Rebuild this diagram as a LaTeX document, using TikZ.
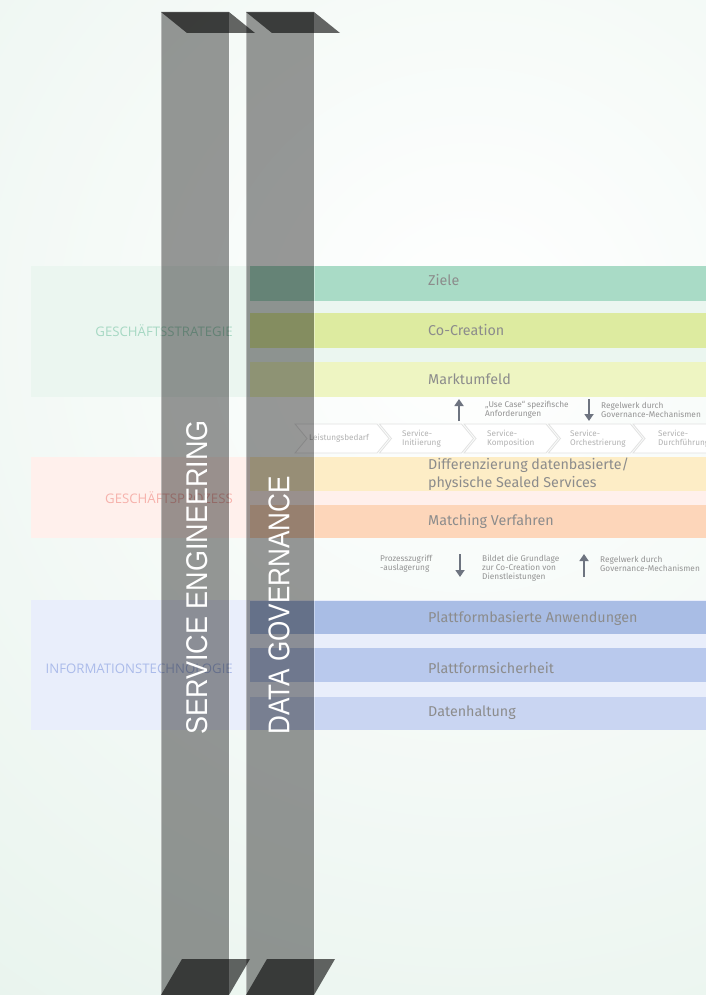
\documentclass[tikz,border=0pt]{standalone}
\usepackage{fontspec}
\setmainfont{Fira Sans}
\newfontfamily\labelfont{Open Sans}
\newfontfamily\barfont{Liberation Sans}
\usetikzlibrary{arrows.meta}
\definecolor{bgmint}{HTML}{E3F1E9}
\definecolor{regstrat}{HTML}{EBF6F0}
\definecolor{regproz}{HTML}{FFF0EC}
\definecolor{regit}{HTML}{E9EEFB}
\definecolor{labstrat}{HTML}{A6D8C3}
\definecolor{labproz}{HTML}{F6B2AC}
\definecolor{labit}{HTML}{ABBBEA}
\definecolor{rziele}{HTML}{A9DBC6}
\definecolor{rcoc}{HTML}{DDEBA0}
\definecolor{rmarkt}{HTML}{EEF5C2}
\definecolor{rdiff}{HTML}{FDEDC6}
\definecolor{rmatch}{HTML}{FDD6BA}
\definecolor{rpba}{HTML}{A9BDE5}
\definecolor{rpsi}{HTML}{B9C9ED}
\definecolor{rdat}{HTML}{C9D5F2}
\definecolor{rowtext}{HTML}{8C8C8C}
\definecolor{smalltext}{HTML}{939393}
\definecolor{chevtextc}{HTML}{B2B2B2}
\definecolor{chevline}{HTML}{E2E2E2}
\definecolor{arrowc}{HTML}{6E7480}
\tikzset{
  rowtxt/.style={anchor=west, inner sep=0pt, text=rowtext, font=\fontsize{14.3}{17.5}\selectfont, align=left},
  regtxt/.style={anchor=east, inner sep=0pt, font=\labelfont\fontsize{13.2}{15}\selectfont},
  smalltxt/.style={anchor=west, inner sep=0pt, text=smalltext, font=\fontsize{8.3}{8.9}\selectfont, align=left},
  chevtxt/.style={anchor=west, inner sep=0pt, text=chevtextc, font=\fontsize{8.2}{8.9}\selectfont, align=left},
  chev/.style={draw=chevline, fill=white, line width=0.8pt, line join=miter},
  bararrow/.style={draw=arrowc, line width=2.8pt, -{Triangle[length=7pt,width=9pt]}},
  barrect/.style={fill=black, fill opacity=0.4, draw=white, draw opacity=0.35, line width=0.8pt},
  barcap/.style={fill=black, fill opacity=0.6},
  vtxt/.style={anchor=west, rotate=90, inner sep=0pt, text=white, font=\barfont\fontsize{30}{30}\selectfont}
}
\begin{document}
\begin{tikzpicture}[x=1pt,y=-1pt]
\useasboundingbox (0,0) rectangle (706,995);
% background
\begin{scope}
\clip (0,0) rectangle (706,995);
\fill[bgmint] (0,0) rectangle (706,995);
\shade[inner color=white, outer color=bgmint] (470,330) circle (1050);
\end{scope}
% region boxes
\fill[regstrat] (31,266) rectangle (706,397);
\fill[regproz] (31,457) rectangle (706,538);
\fill[regit] (31,600) rectangle (706,730);
% region labels
\node[regtxt, text=labstrat] (lstrat) at (233,331) {GESCHÄFTSSTRATEGIE};
\node[regtxt, text=labproz] (lproz) at (233,498) {GESCHÄFTSPROZESS};
\node[regtxt, text=labit] (lit) at (233,669) {INFORMATIONSTECHNOLOGIE};
% rows
\fill[rziele] (250,266) rectangle (706,301);
\fill[rcoc] (250,313) rectangle (706,348);
\fill[rmarkt] (250,362) rectangle (706,397);
\fill[rdiff] (250,457) rectangle (706,491);
\fill[rmatch] (250,505) rectangle (706,538);
\fill[rpba] (250,601) rectangle (706,634);
\fill[rpsi] (250,648) rectangle (706,682);
\fill[rdat] (250,697) rectangle (706,730);
\node[rowtxt] (tziele) at (428,280) {Ziele};
\node[rowtxt] (tcoc) at (428,330) {Co-Creation};
\node[rowtxt] (tmarkt) at (428,379) {Marktumfeld};
\node[rowtxt] (tdiff) at (428,474) {Differenzierung datenbasierte/\\physische Sealed Services};
\node[rowtxt] (tmatch) at (428,521) {Matching Verfahren};
\node[rowtxt] (tpba) at (428,618) {Plattformbasierte Anwendungen};
\node[rowtxt] (tpsi) at (428,668) {Plattformsicherheit};
\node[rowtxt] (tdat) at (428,713) {Datenhaltung};
% chevrons
\foreach \L in {295,379.5,464,548.5,633} {
  \draw[chev] (\L,424) -- ++(82,0) -- ++(12,14.5) -- ++(-12,14.5) -- ++(-82,0) -- ++(12,-14.5) -- cycle;
}
\node[chevtxt] (c1) at (309,438.5) {Leistungsbedarf};
\node[chevtxt] (c2) at (402,438.5) {Service-\\Initiierung};
\node[chevtxt] (c3) at (487,438.5) {Service-\\Komposition};
\node[chevtxt] (c4) at (570,438.5) {Service-\\Orchestrierung};
\node[chevtxt] (c5) at (658,438.5) {Service-\\Durchführung};
% arrows upper
\coordinate (a1s) at (459,421);
\coordinate (a1e) at (459,399);
\coordinate (a2s) at (589,399);
\coordinate (a2e) at (589,421);
\draw[bararrow] (a1s) -- (a1e);
\draw[bararrow] (a2s) -- (a2e);
\node[smalltxt] (u1) at (485,410) {„Use Case“ spezifische\\Anforderungen};
\node[smalltxt] (u2) at (601,410) {Regelwerk durch\\Governance-Mechanismen};
% arrows lower
\coordinate (a3s) at (460,554);
\coordinate (a3e) at (460,577);
\coordinate (a4s) at (584,577);
\coordinate (a4e) at (584,554);
\draw[bararrow] (a3s) -- (a3e);
\draw[bararrow] (a4s) -- (a4e);
\node[smalltxt] (l1) at (380,563.5) {Prozesszugriff\\-auslagerung};
\node[smalltxt] (l2) at (482,568) {Bildet die Grundlage\\zur Co-Creation von\\Dienstleistungen};
\node[smalltxt] (l3) at (600,563.5) {Regelwerk durch\\Governance-Mechanismen};
% vertical bars
\path[barrect] (161,12) rectangle (229,1000);
\path[barrect] (246,12) rectangle (314,1000);
\fill[barcap] (161,12) -- (229,12) -- (255,33) -- (187,33) -- cycle;
\fill[barcap] (246,12) -- (314,12) -- (340,33) -- (272,33) -- cycle;
\fill[barcap] (182,959) -- (250,959) -- (229,995) -- (161,995) -- cycle;
\fill[barcap] (267,959) -- (335,959) -- (314,995) -- (246,995) -- cycle;
% vertical labels
\node[vtxt] (se) at (197,735) {\scalebox{0.9}[1]{SERVICE ENGINEERING}};
\node[vtxt] (dg) at (279,735) {\scalebox{0.87}[1]{DATA GOVERNANCE}};
\end{tikzpicture}
\end{document}
